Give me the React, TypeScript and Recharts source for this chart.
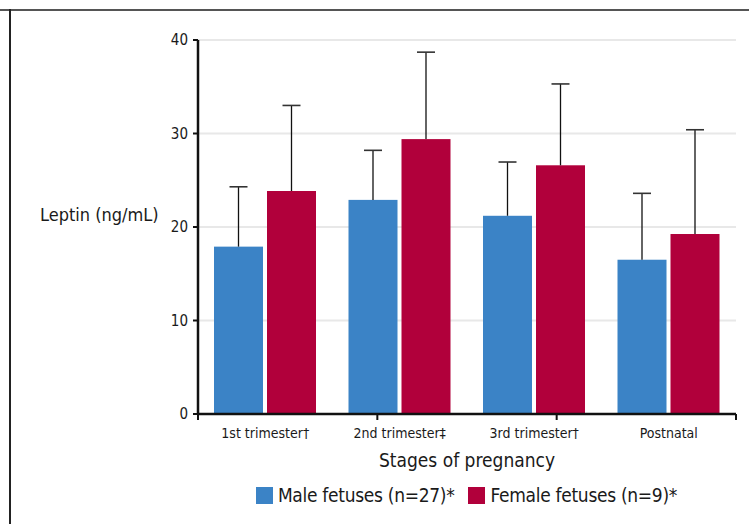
import React from "react";
import { BarChart, Bar, XAxis, YAxis, CartesianGrid, Legend } from "recharts";

const stages = ["1st trimester\u2020", "2nd trimester\u2021", "3rd trimester\u2020", "Postnatal"];
const maleMean = [17.9, 22.9, 21.2, 16.5];
const maleUpper = [24.3, 28.2, 26.95, 23.6];
const femaleMean = [23.85, 29.4, 26.6, 19.25];
const femaleUpper = [33.0, 38.7, 35.3, 30.4];
const yTicks = [0, 10, 20, 30, 40];
const stageEdges = [0, 1, 2, 3, 4];

const MALE = "#3b83c6";
const FEMALE = "#b1003b";
const FONT = "'DejaVu Sans Condensed', 'Liberation Sans Narrow', 'Arial Narrow', sans-serif";
const INK = "#1a1a1a";

const data = stages.map((stage, i) => ({
  stage,
  male: maleMean[i],
  maleErr: maleUpper[i],
  female: femaleMean[i],
  femaleErr: femaleUpper[i],
}));

// bar + one-sided (upper) error whisker, scaled from the bar's own height
const makeShape = (errKey: string) => (props: any) => {
  const { x, y, width, height, fill, value, payload } = props;
  const v = Array.isArray(value) ? value[1] : value;
  const perUnit = v ? height / v : 0;
  const top = y - (payload[errKey] - v) * perUnit;
  const cx = x + width / 2;
  return (
    <g>
      <rect x={x} y={y} width={width} height={height} fill={fill} />
      <line x1={cx} x2={cx} y1={y} y2={top} stroke="#111" strokeWidth={1.3} />
      <line x1={cx - 9} x2={cx + 9} y1={top} y2={top} stroke="#333" strokeWidth={1.6} />
    </g>
  );
};

const noTick = () => <g />;

const renderLegend = () => (
  <div
    style={{
      display: "flex",
      justifyContent: "center",
      alignItems: "center",
      fontFamily: FONT,
      fontStretch: "condensed",
      fontSize: 19,
      letterSpacing: -0.3,
      color: INK,
    }}
  >
    <span style={{ display: "inline-block", width: 17, height: 17, background: MALE, marginRight: 5 }} />
    <span style={{ marginRight: 14 }}>Male fetuses (n=27)*</span>
    <span style={{ display: "inline-block", width: 17, height: 17, background: FEMALE, marginRight: 5 }} />
    <span>Female fetuses (n=9)*</span>
  </div>
);

const yLabel = () => (
  <text x={40} y={221} fontFamily={FONT} fontSize={18} fill={INK} style={{ fontStretch: "condensed" }}>
    Leptin (ng/mL)
  </text>
);

export default function App() {
  return (
    <div style={{ position: "absolute", left: 0, top: 0, width: 749, height: 524, background: "#fff" }}>
      <div style={{ position: "absolute", left: 0, top: 9, width: 749, height: 0, borderTop: "2px solid #555" }} />
      <div style={{ position: "absolute", left: 9, top: 9, width: 0, height: 515, borderLeft: "2px solid #222" }} />
      <BarChart
        width={749}
        height={524}
        data={data}
        margin={{ top: 40, right: 13, bottom: 80, left: 158 }}
        barCategoryGap={16}
        barGap={4}
      >
        <CartesianGrid vertical={false} stroke="#e8e8e8" strokeWidth={2} />
        <XAxis
          xAxisId="cat"
          dataKey="stage"
          height={30}
          tickLine={false}
          axisLine={{ stroke: "#111", strokeWidth: 2.5 }}
          tickMargin={8}
          tick={{ fontFamily: FONT, fontSize: 14, fill: INK, style: { fontStretch: "condensed" } }}
          label={{
            value: "Stages of pregnancy",
            position: "bottom",
            offset: 10,
            style: { fontFamily: FONT, fontSize: 19, fill: INK, fontStretch: "condensed" },
          }}
        />
        <XAxis
          xAxisId="edges"
          type="number"
          domain={[0, 4]}
          ticks={stageEdges}
          interval={0}
          mirror
          height={1}
          axisLine={false}
          tick={noTick}
          tickSize={-6}
          tickLine={{ stroke: "#111", strokeWidth: 2 }}
        />
        <YAxis
          width={40}
          domain={[0, 40]}
          ticks={yTicks}
          tickSize={5}
          tickMargin={5}
          axisLine={{ stroke: "#111", strokeWidth: 2.5 }}
          tickLine={{ stroke: "#111", strokeWidth: 2 }}
          tick={{ fontFamily: FONT, fontSize: 15, fill: INK, style: { fontStretch: "condensed" } }}
          label={{ value: "Leptin (ng/mL)", content: yLabel }}
        />
        <Legend
          layout="horizontal"
          align="center"
          verticalAlign="middle"
          content={renderLegend}
          wrapperStyle={{ top: 484, left: 0, width: 749, paddingLeft: 184, boxSizing: "border-box" }}
        />
        <Bar xAxisId="cat" dataKey="male" name="Male fetuses (n=27)*" fill={MALE} isAnimationActive={false} shape={makeShape("maleErr")} />
        <Bar xAxisId="cat" dataKey="female" name="Female fetuses (n=9)*" fill={FEMALE} isAnimationActive={false} shape={makeShape("femaleErr")} />
      </BarChart>
    </div>
  );
}
